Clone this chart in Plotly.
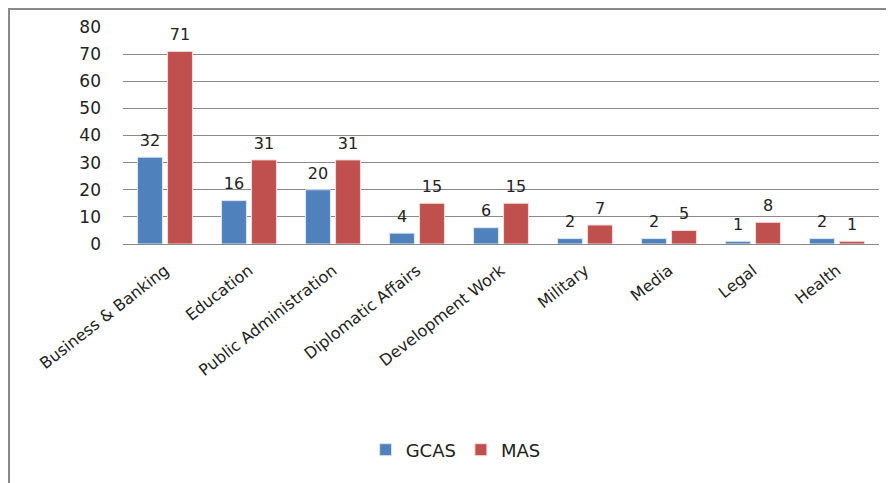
import plotly.graph_objects as go

categories = ["Business & Banking", "Education", "Public Administration",
              "Diplomatic Affairs", "Development Work", "Military", "Media",
              "Legal", "Health"]
gcas = [32, 16, 20, 4, 6, 2, 2, 1, 2]
mas = [71, 31, 31, 15, 15, 7, 5, 8, 1]
y_ticks = [0, 10, 20, 30, 40, 50, 60, 70, 80]

BLUE = "#4F81BD"
RED = "#C0504D"
FONT = "DejaVu Sans"
TXT = "#222222"

# page body adds an 8px offset, so the figure is sized to the remaining area
W, H = 886, 475
L, R, T, B = 115, 15, 19, 239
PW, PH = W - L - R, H - T - B

fig = go.Figure()
fig.add_trace(go.Bar(name="GCAS", x=categories, y=gcas, marker_color=BLUE,
                     marker_line=dict(color="#dce6f2", width=1),
                     offsetgroup="g", hoverinfo="x+y"))
fig.add_trace(go.Bar(name="MAS", x=categories, y=mas, marker_color=RED,
                     marker_line=dict(color="#f2dcdb", width=1),
                     offsetgroup="m", hoverinfo="x+y"))
# data labels above each bar
for vals, grp in ((gcas, "g"), (mas, "m")):
    fig.add_trace(go.Scatter(x=categories, y=vals, mode="markers+text",
                             text=[str(v) for v in vals], textposition="top center",
                             marker=dict(size=10, color="rgba(0,0,0,0)"),
                             textfont=dict(family=FONT, size=16, color=TXT),
                             offsetgroup=grp, showlegend=False, hoverinfo="skip",
                             cliponaxis=False))

fig.update_layout(
    width=W, height=H,
    margin=dict(l=L, r=R, t=T, b=B, autoexpand=False),
    paper_bgcolor="white", plot_bgcolor="white",
    barmode="group", scattermode="group",
    bargap=0.286, bargroupgap=0.17, scattergap=0.286,
    font=dict(family=FONT, size=16, color=TXT),
    legend=dict(orientation="h", x=0.44, xanchor="center",
                y=(244 - 450) / PH, yanchor="middle",
                font=dict(family=FONT, size=18, color=TXT), itemwidth=30,
                traceorder="normal"),
    showlegend=True,
    shapes=[dict(type="rect", xref="paper", yref="paper",
                 x0=(1 - L) / PW, x1=1.1, y0=-1.2, y1=(PH + T - 1) / PH,
                 line=dict(color="#8a8a8a", width=2), fillcolor="rgba(0,0,0,0)",
                 layer="below")],
)
fig.update_xaxes(showgrid=False, showline=True, linecolor="#8a8a8a", linewidth=1,
                 ticks="", tickangle=-38, automargin=False, ticklabelstandoff=10,
                 tickfont=dict(family=FONT, size=16, color=TXT))
fig.update_yaxes(range=[0, 80], tickvals=y_ticks, showgrid=True, gridcolor="#8a8a8a",
                 gridwidth=1, zeroline=False, showline=False, ticks="", automargin=False,
                 tickfont=dict(family=FONT, size=17, color=TXT), ticklabelstandoff=21)

fig.write_html("out.html")
